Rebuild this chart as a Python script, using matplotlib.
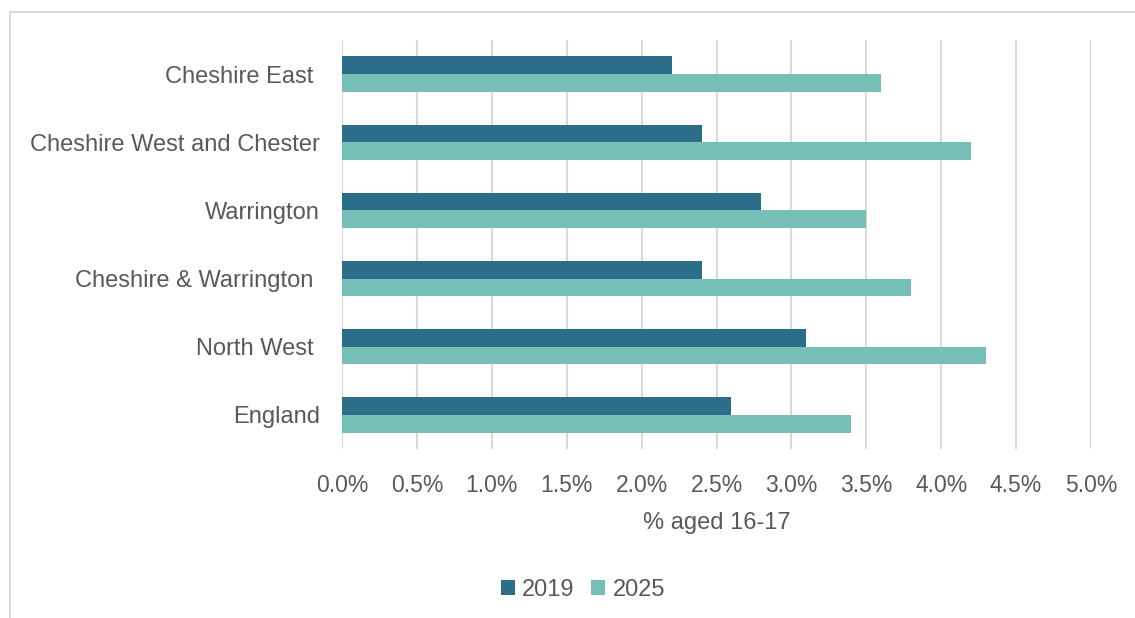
import numpy as np
import matplotlib.pyplot as plt
from matplotlib.lines import Line2D
from matplotlib.ticker import PercentFormatter

plt.rcParams.update({'font.family': ['Liberation Sans', 'DejaVu Sans'], 'font.size': 17})

areas = ['Cheshire East ', 'Cheshire West and Chester', 'Warrington',
         'Cheshire & Warrington ', 'North West ', 'England']
pct_2019 = [2.2, 2.4, 2.8, 2.4, 3.1, 2.6]
pct_2025 = [3.6, 4.2, 3.5, 3.8, 4.3, 3.4]

dark = '#2C6E8A'
light = '#76BFB6'
grey_txt = '#595959'
grid_col = '#D9D9D9'

fig = plt.figure(figsize=(11.35, 6.18), dpi=100)
ax = fig.add_axes([342/1135, 1 - 449/618, (1091-342)/1135, (449-40)/618])

y = np.arange(len(areas))
h = 0.26
ax.barh(y - h/2, pct_2019, height=h, color=dark, label='2019', zorder=3)
ax.barh(y + h/2, pct_2025, height=h, color=light, label='2025', zorder=3)

ax.set_xlim(0, 5)
ax.set_ylim(len(areas) - 0.5, -0.5)
ax.set_xticks(np.arange(0, 5.01, 0.5))
ax.xaxis.set_major_formatter(PercentFormatter(decimals=1))
ax.set_yticks(y)
ax.set_yticklabels(areas)
ax.tick_params(length=0, colors=grey_txt)
ax.tick_params(axis='x', labelsize=16.5, pad=18)
ax.tick_params(axis='y', labelsize=17, pad=16)
ax.grid(axis='x', color=grid_col, linewidth=1.5, zorder=0)
for s in ax.spines.values():
    s.set_visible(False)

ax.set_xlabel('% aged 16-17', color=grey_txt, fontsize=17, labelpad=11)

fig.legend(loc='center', bbox_to_anchor=(583/1135, 1 - 590/618), ncol=2,
           frameon=False, handlelength=0.6, handleheight=0.6, handletextpad=0.3,
           columnspacing=0.7, fontsize=17, labelcolor=grey_txt)

# chart border (top and left edges only)
fig.add_artist(Line2D([10/1135, 10/1135], [0, 1 - 12/618], color='#D9D9D9', lw=1.5,
                      transform=fig.transFigure))
fig.add_artist(Line2D([10/1135, 1], [1 - 12/618, 1 - 12/618], color='#D9D9D9', lw=1.5,
                      transform=fig.transFigure))

fig.savefig('out.png', dpi=100)
